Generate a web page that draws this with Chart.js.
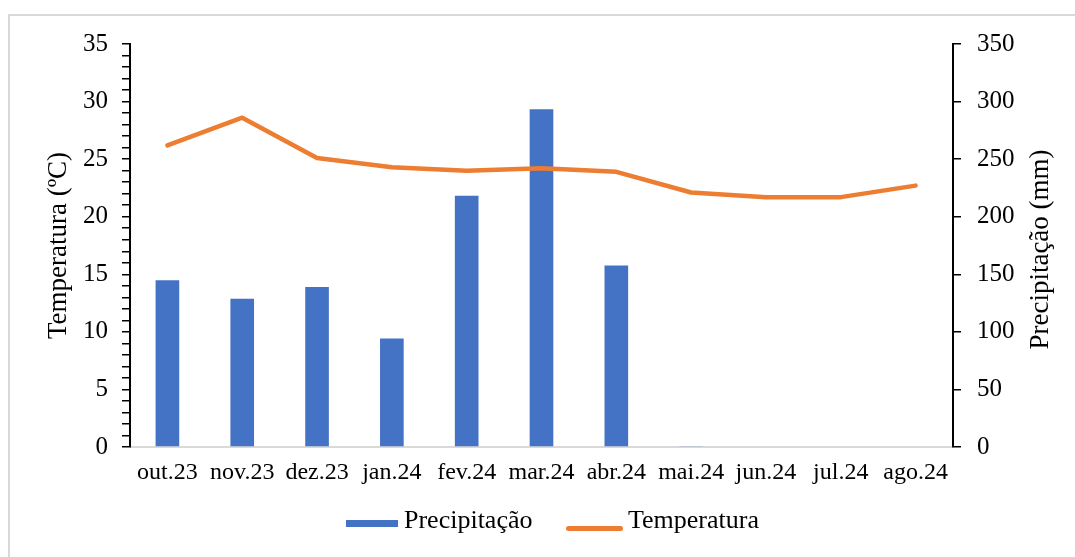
<!DOCTYPE html>
<html>
<head>
<meta charset="utf-8">
<script src="https://cdn.jsdelivr.net/npm/chart.js@4.4.1/dist/chart.umd.min.js"></script>
<style>
  html, body { margin: 0; padding: 0; background: #fff; overflow: hidden; }
  body { width: 1075px; height: 557px; position: relative; font-family: 'Liberation Serif', 'Times New Roman', serif; }
  #frame { position: absolute; left: 8px; top: 14px; width: 1100px; height: 600px; border: 2px solid #d9d9d9; box-sizing: border-box; }
  #wrap { position: absolute; left: 0; top: 0; width: 1075px; height: 557px; }
  .sw { position: absolute; }
  .lg { position: absolute; font-size: 26px; line-height: 26px; color: #000; white-space: nowrap; }
</style>
</head>
<body>
<div id="frame"></div>
<div id="wrap"><canvas id="chart"></canvas></div>
<div id="legend">
  <div class="sw" id="sw-prec" style="left:346px;top:520px;width:52px;height:7px;"></div>
  <div class="lg" id="lg-prec" style="left:404px;top:507px;"></div>
  <div class="sw" id="sw-temp" style="left:566px;top:526px;width:57px;height:4.5px;border-radius:3px;"></div>
  <div class="lg" id="lg-temp" style="left:628px;top:507px;"></div>
</div>
<script>
const FONT = "'Liberation Serif', 'Times New Roman', serif";
const BLUE = '#4472C4';
const ORANGE = '#ED7D31';

const months = ['out.23', 'nov.23', 'dez.23', 'jan.24', 'fev.24', 'mar.24', 'abr.24', 'mai.24', 'jun.24', 'jul.24', 'ago.24'];
const precipitacao = [144.9, 128.7, 138.9, 94.2, 218.1, 293.3, 157.6, 0.8, 0, 0, 0];
const temperatura = [26.2, 28.6, 25.1, 24.3, 24.0, 24.2, 23.9, 22.1, 21.7, 21.7, 22.7];

const tempAxis = { min: 0, max: 35, major: 5, minor: 1 };
const precAxis = { min: 0, max: 350, step: 50 };

const PREC_LABEL = 'Precipitação';
const TEMP_LABEL = 'Temperatura';
const TEMP_TITLE = 'Temperatura (ºC)';
const PREC_TITLE = 'Precipitação (mm)';

// legend (html, below the plot)
document.getElementById('sw-prec').style.background = BLUE;
document.getElementById('sw-temp').style.background = ORANGE;
document.getElementById('lg-prec').textContent = PREC_LABEL;
document.getElementById('lg-temp').textContent = TEMP_LABEL;

// right axis title reads bottom-to-top like the left one
const rightTitle = {
  id: 'rightTitle',
  afterDraw(chart) {
    const { ctx, chartArea } = chart;
    const s = chart.scales.yP;
    ctx.save();
    ctx.translate(s.right - 34, (chartArea.top + chartArea.bottom) / 2 + 4);
    ctx.rotate(-Math.PI / 2);
    ctx.font = '27px ' + FONT;
    ctx.fillStyle = '#000';
    ctx.textAlign = 'center';
    ctx.textBaseline = 'middle';
    ctx.fillText(PREC_TITLE, 0, 0);
    ctx.restore();
  }
};

new Chart(document.getElementById('chart'), {
  data: {
    labels: months,
    datasets: [
      {
        type: 'bar',
        label: PREC_LABEL,
        data: precipitacao,
        yAxisID: 'yP',
        backgroundColor: BLUE,
        categoryPercentage: 1,
        barPercentage: 0.316,
        order: 1,
      },
      {
        type: 'line',
        label: TEMP_LABEL,
        data: temperatura,
        yAxisID: 'yT',
        borderColor: ORANGE,
        backgroundColor: ORANGE,
        borderWidth: 4.5,
        pointRadius: 0,
        tension: 0,
        borderCapStyle: 'round',
        borderJoinStyle: 'round',
        order: 0,
      },
    ],
  },
  options: {
    responsive: true,
    maintainAspectRatio: false,
    animation: false,
    layout: { padding: { top: 44, left: 0, right: 0, bottom: 0 } },
    plugins: {
      legend: { display: false },
      tooltip: { enabled: false },
    },
    scales: {
      x: {
        grid: { display: false, drawTicks: false },
        border: { color: '#d9d9d9', width: 2 },
        ticks: { color: '#000', font: { family: FONT, size: 24 }, padding: 11, autoSkip: false, maxRotation: 0 },
        afterFit: s => { s.height = 110; },
      },
      yT: {
        position: 'left',
        min: tempAxis.min,
        max: tempAxis.max,
        ticks: {
          stepSize: tempAxis.minor,
          autoSkip: false,
          color: '#000',
          font: { family: FONT, size: 25 },
          padding: 14,
          callback: v => (v % tempAxis.major === 0 ? v : ''),
        },
        grid: { drawOnChartArea: false, color: '#000', tickLength: 8, lineWidth: 1.5 },
        border: { color: '#000', width: 2 },
        title: { display: true, text: TEMP_TITLE, color: '#000', font: { family: FONT, size: 27 }, padding: { top: 43, bottom: 0 } },
        afterFit: s => { s.width = 130; },
      },
      yP: {
        position: 'right',
        min: precAxis.min,
        max: precAxis.max,
        ticks: { stepSize: precAxis.step, color: '#000', font: { family: FONT, size: 25 }, padding: 16 },
        grid: { drawOnChartArea: false, color: '#000', tickLength: 8, lineWidth: 1.5 },
        border: { color: '#000', width: 2 },
        afterFit: s => { s.width = 122; },
      },
    },
  },
  plugins: [rightTitle],
});
</script>
</body>
</html>
